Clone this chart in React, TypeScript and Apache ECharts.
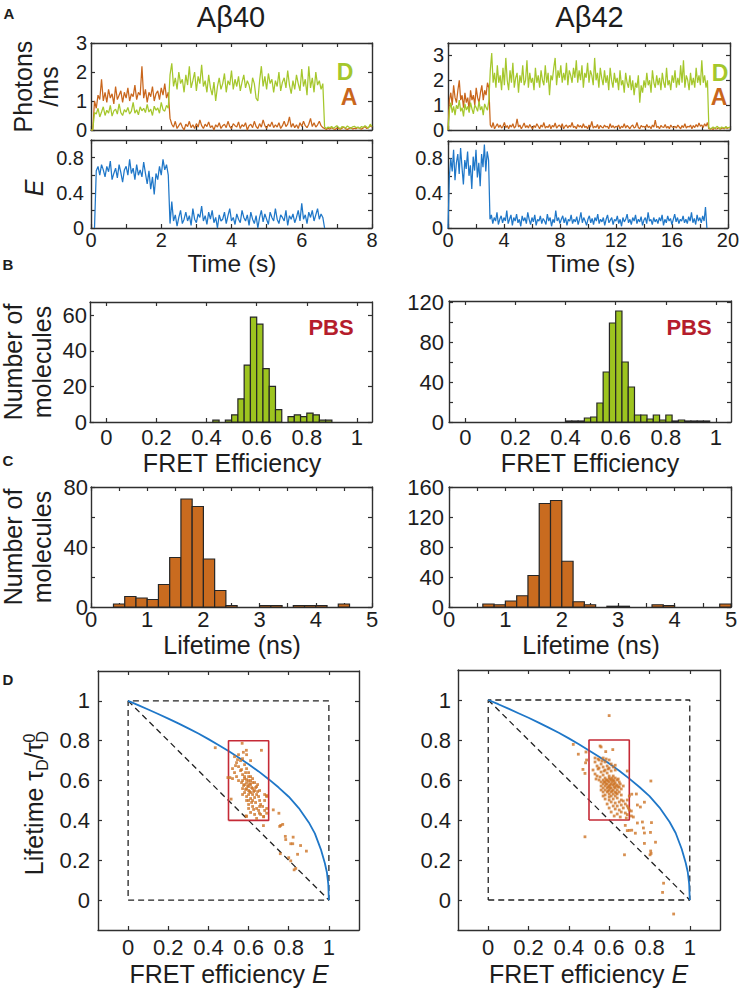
import React, { useEffect, useRef } from "react";
import * as echarts from "echarts";

// ---------------- DATA ----------------
// Panel A, Aβ40 single-molecule traces (bin = 0.05 s, starting at t = 0)
const A40_DT = 0.05;
const a40Donor = [
  0, 0, 0.6,
  0.55, 0.75, 0.45, 0.62, 0.8, 0.5, 0.68, 0.58, 0.85, 0.48, 0.66, 0.72, 0.55, 0.9, 0.6, 0.5, 0.7, 0.62, 0.78, 0.55,
  0.65, 0.95, 0.58, 0.7, 0.52, 0.8, 0.66, 0.75, 0.6, 0.88, 0.62, 0.72, 0.5, 0.82, 0.68, 0.76, 0.58, 0.95, 0.7, 0.65, 0.85, 0.75,
  1.9, 2.3, 1.5, 1.8, 1.4, 2.0, 1.6, 1.75, 1.3, 1.9,
  1.55, 2.2, 1.45, 1.7, 2.0, 1.35, 1.85, 1.6, 2.25, 1.5,
  1.7, 1.3, 1.9, 1.45, 1.2, 1.65, 1.0, 1.5, 1.8, 1.4,
  1.6, 1.95, 1.3, 1.7, 1.55, 2.05, 1.4, 1.75, 1.5, 1.85,
  1.35, 1.65, 1.9, 1.45, 1.7, 1.55, 1.25, 1.8, 1.6, 1.1,
  1.0, 1.7, 2.2, 1.5, 1.85, 1.4, 1.95, 1.6, 1.75, 1.3,
  1.7, 1.5, 2.0, 1.35, 1.65, 1.8, 1.45, 2.05, 1.55, 1.25,
  1.7, 1.4, 1.9, 1.6, 1.35, 2.1, 1.5, 1.75, 1.2, 2.2,
  1.45, 1.8, 1.3, 2.0, 1.55, 1.7, 1.4, 1.6,
  0.1,
  0.05, 0.1, 0.08, 0.12, 0.06, 0.1, 0.15, 0.08, 0.05, 0.12, 0.1, 0.07, 0.14, 0.09, 0.06, 0.11, 0.13, 0.08, 0.1, 0.05,
  0.12, 0.09, 0.15, 0.1, 0.07, 0.2, 0.12,
];
const a40Acceptor = [
  0, 0, 1.0,
  0.75, 1.2, 1.05, 1.75, 1.0, 1.3, 0.95, 1.4, 1.1, 1.25, 0.9, 1.5, 1.05, 1.2, 1.35, 0.95, 1.3, 1.1, 1.45, 1.0,
  1.25, 1.15, 1.55, 1.05, 1.3, 1.2, 2.2, 1.1, 1.4, 0.95, 1.3, 1.15, 1.5, 1.0, 1.25, 1.35, 1.05, 1.45, 1.2, 1.6, 1.1, 1.3,
  0.4,
  0.2, 0.1, 0.3, 0.05, 0.15, 0.25, 0.1, 0.0, 0.2, 0.12,
  0.3, 0.08, 0.18, 0.05, 0.22, 0.1, 0.35, 0.15, 0.05, 0.2,
  0.12, 0.28, 0.08, 0.15, 0.0, 0.18, 0.1, 0.25, 0.05, 0.15,
  0.2, 0.08, 0.3, 0.12, 0.05, 0.22, 0.15, 0.1, 0.28, 0.05,
  0.18, 0.12, 0.25, 0.0, 0.15, 0.2, 0.08, 0.3, 0.12, 0.05,
  0.22, 0.1, 0.35, 0.15, 0.05, 0.2, 0.12, 0.28, 0.08, 0.18,
  0.1, 0.25, 0.05, 0.15, 0.3, 0.12, 0.2, 0.45, 0.1, 0.22,
  0.08, 0.18, 0.05, 0.25, 0.12, 0.3, 0.15, 0.08, 0.2, 0.4,
  0.12, 0.25, 0.1, 0.18, 0.3, 0.15, 0.08,
  0.05, 0.02, 0.06, 0.03, 0.08, 0.04, 0.02, 0.07, 0.05, 0.03, 0.06, 0.1, 0.04, 0.02, 0.05, 0.08, 0.03, 0.06, 0.04, 0.09,
  0.05, 0.03, 0.07, 0.12, 0.05, 0.08, 0.15, 0.1,
];
const a40E = [
  null, null, 0,
  0.65, 0.7, 0.6, 0.72, 0.66, 0.58, 0.7, 0.64, 0.76, 0.55,
  0.62, 0.68, 0.57, 0.72, 0.63, 0.52, 0.66, 0.7, 0.6, 0.78,
  0.62, 0.68, 0.55, 0.72, 0.6, 0.66, 0.58, 0.75, 0.62, 0.5,
  0.65, 0.44, 0.58, 0.38, 0.62, 0.55, 0.7, 0.6, 0.78, 0.66,
  0.72, 0.6,
  0.05, 0.3, 0.08, 0.15, 0.02, 0.12, 0.2, 0.05, 0.1, 0.18,
  0.08, 0.14, 0.03, 0.22, 0.1, 0.06, 0.16, 0.12, 0.25, 0.08,
  0.14, 0.04, 0.18, 0.1, 0.2, 0.06, 0.12, 0.0, 0.15, 0.08,
  0.1, 0.18, 0.05, 0.14, 0.22, 0.08, 0.12, 0.04, 0.16, 0.1,
  0.06, 0.2, 0.12, 0.08, 0.15, 0.03, 0.18, 0.1, 0.05, 0.14,
  0.0, 0.12, 0.2, 0.07, 0.16, 0.1, 0.04, 0.18, 0.12, 0.08,
  0.22, 0.1, 0.05, 0.15, 0.12, 0.08, 0.2, 0.03, 0.14, 0.1,
  0.16, 0.06, 0.12, 0.2, 0.08, 0.28, 0.1, 0.15, 0.05, 0.18,
  0.12, 0.2, 0.08, 0.15, 0.22, 0.1, 0.16, 0.12,
  0,
];

// Panel A, Aβ42 traces (bin = 0.1 s)
const A42_DT = 0.1;
const a42Donor = [
  0,
  0.8, 1.1, 0.7, 0.95, 0.6, 1.0, 0.85, 1.2, 0.75, 0.9, 0.55, 1.05, 0.8, 0.95, 0.7, 1.1, 0.85, 0.65, 1.0, 0.9,
  0.75, 1.15, 0.8, 0.95, 0.6, 1.05, 0.9, 0.8, 1.2,
  2.4, 3.1, 1.9, 2.3, 1.7, 2.6, 1.9, 2.2, 1.6, 2.5,
  1.8, 2.9, 2.0, 1.6, 2.4, 1.9, 2.7, 1.7, 2.1, 2.3,
  1.5, 2.2, 1.9, 2.6, 1.8, 2.0, 2.8, 1.7, 2.3, 1.9,
  2.1, 1.6, 2.5, 1.9, 2.2, 1.7, 2.4, 2.0, 1.8, 2.6,
  1.9, 2.3, 1.4, 2.2, 2.0, 2.5, 2.9, 1.8, 2.4, 2.1,
  2.6, 1.9, 2.3, 2.0, 2.7, 1.8, 2.4, 2.2, 1.9, 2.5,
  2.1, 2.8, 1.9, 2.4, 2.0, 2.6, 1.7, 2.3, 2.1, 2.7,
  1.9, 2.4, 2.2, 1.8, 2.9, 2.0, 2.3, 1.7, 2.5, 2.1,
  1.8, 2.4, 1.9, 2.2, 1.6, 2.5, 2.0, 1.7, 2.3, 1.9,
  2.1, 1.6, 2.4, 1.8, 2.0, 1.5, 2.3, 1.9, 1.7, 2.2,
  1.6, 2.0, 1.4, 1.9, 1.7, 2.2, 1.1, 1.8, 1.5, 2.0,
  1.7, 2.3, 1.8, 2.0, 1.5, 2.4, 1.9, 1.7, 2.2, 1.8,
  2.1, 1.6, 2.3, 1.9, 1.7, 2.5, 1.8, 2.0, 1.6, 2.2,
  1.9, 2.4, 1.7, 2.1, 1.8, 2.6, 1.9, 2.8, 1.7, 2.2,
  2.0, 1.6, 2.3, 1.8, 2.1, 1.7, 2.5, 1.9, 2.2, 1.8,
  2.8, 1.9, 2.2, 1.7, 2.0,
  0.1, 0.05, 0.08, 0.12, 0.06, 0.1, 0.15, 0.08, 0.05, 0.12, 0.1, 0.07, 0.14, 0.09, 0.1, 0.12,
];
const a42Acceptor = [
  0,
  1.2, 1.5, 1.0, 1.8, 1.3, 1.1, 1.6, 2.0, 1.2, 1.4, 0.9, 1.5, 1.1, 1.3, 0.8, 1.6, 1.2, 1.4, 1.0, 1.7,
  1.3, 1.1, 1.5, 1.8, 1.2, 1.6, 1.4, 1.9, 1.7,
  0.2, 0.1, 0.3, 0.05, 0.15, 0.25, 0.1, 0.2, 0.08, 0.15,
  0.3, 0.1, 0.18, 0.05, 0.2, 0.12, 0.25, 0.08, 0.15, 0.45,
  0.12, 0.2, 0.05, 0.15, 0.28, 0.1, 0.18, 0.08, 0.22, 0.12,
  0.05, 0.18, 0.1, 0.25, 0.15, 0.05, 0.2, 0.12, 0.3, 0.08,
  0.15, 0.1, 0.22, 0.05, 0.18, 0.12, 0.28, 0.08, 0.15, 0.2,
  0.1, 0.25, 0.05, 0.15, 0.2, 0.08, 0.18, 0.12, 0.3, 0.1,
  0.15, 0.05, 0.22, 0.12, 0.18, 0.08, 0.25, 0.1, 0.15, 0.05,
  0.2, 0.12, 0.35, 0.08, 0.15, 0.1, 0.22, 0.05, 0.18, 0.12,
  0.08, 0.2, 0.12, 0.15, 0.05, 0.25, 0.1, 0.18, 0.08, 0.15,
  0.12, 0.2, 0.05, 0.15, 0.1, 0.25, 0.08, 0.18, 0.12, 0.05,
  0.15, 0.2, 0.08, 0.12, 0.3, 0.1, 0.05, 0.18, 0.12, 0.15,
  0.08, 0.22, 0.1, 0.15, 0.05, 0.2, 0.12, 0.4, 0.1, 0.15,
  0.05, 0.18, 0.12, 0.1, 0.22, 0.08, 0.15, 0.05, 0.2, 0.12,
  0.1, 0.15, 0.08, 0.2, 0.12, 0.05, 0.18, 0.1, 0.25, 0.08,
  0.15, 0.12, 0.2, 0.05, 0.18, 0.1, 0.22, 0.12, 0.28, 0.15,
  0.2, 0.1, 0.25, 0.15, 0.3,
  0.05, 0.03, 0.06, 0.02, 0.08, 0.04, 0.05, 0.1, 0.03, 0.06, 0.08, 0.04, 0.12, 0.06, 0.1, 0.08,
];
const a42E = [
  0,
  0.6, 0.8, 0.65, 0.9, 0.55, 0.75, 0.85, 0.62, 0.92, 0.7, 0.5, 0.78, 0.68, 0.88, 0.6, 0.72, 0.45, 0.82, 0.66, 0.9,
  0.58, 0.75, 0.48, 0.85, 0.7, 0.96, 0.65, 0.88, 0.78,
  0.1, 0.15, 0.05, 0.12, 0.08, 0.18, 0.04, 0.1, 0.14, 0.06,
  0.12, 0.08, 0.2, 0.05, 0.1, 0.15, 0.03, 0.12, 0.08, 0.16,
  0.06, 0.1, 0.02, 0.14, 0.08, 0.12, 0.05, 0.18, 0.1, 0.04,
  0.12, 0.07, 0.15, 0.03, 0.1, 0.08, 0.14, 0.05, 0.11, 0.08,
  0.04, 0.16, 0.08, 0.12, 0.02, 0.1, 0.06, 0.2, 0.08, 0.12,
  0.05, 0.1, 0.14, 0.06, 0.12, 0.03, 0.1, 0.08, 0.15, 0.05,
  0.1, 0.07, 0.13, 0.04, 0.1, 0.18, 0.06, 0.12, 0.08, 0.03,
  0.1, 0.14, 0.06, 0.11, 0.04, 0.12, 0.08, 0.16, 0.05, 0.1,
  0.07, 0.12, 0.03, 0.1, 0.15, 0.06, 0.09, 0.12, 0.04, 0.1,
  0.08, 0.14, 0.05, 0.1, 0.02, 0.12, 0.07, 0.1, 0.16, 0.06,
  0.1, 0.04, 0.12, 0.08, 0.15, 0.05, 0.1, 0.07, 0.13, 0.03,
  0.09, 0.12, 0.05, 0.18, 0.08, 0.1, 0.04, 0.12, 0.07, 0.1,
  0.05, 0.12, 0.08, 0.15, 0.03, 0.1, 0.06, 0.14, 0.08, 0.11,
  0.04, 0.1, 0.16, 0.07, 0.12, 0.05, 0.1, 0.08, 0.14, 0.06,
  0.1, 0.05, 0.13, 0.08, 0.18, 0.06, 0.11, 0.04, 0.15, 0.08,
  0.12, 0.06, 0.14, 0.08, 0.24,
  0,
];

// Panel B: FRET efficiency histograms (bin start, counts; bin width 0.025)
const FRET_BIN = 0.025;
const b40BinStart = [0.425, 0.475, 0.5, 0.525, 0.55, 0.575, 0.6, 0.625, 0.65, 0.675, 0.725, 0.75, 0.775, 0.8, 0.825, 0.85, 0.875];
const b40Counts = [1, 1, 4, 13, 32, 59, 55, 30, 20, 7, 3, 4, 3, 5, 4, 1, 1];
const b42BinStart = [0.4, 0.425, 0.45, 0.475, 0.5, 0.525, 0.55, 0.575, 0.6, 0.625, 0.65, 0.675, 0.7, 0.725, 0.75, 0.775, 0.8, 0.825, 0.85, 0.875, 0.9, 0.925, 0.95];
const b42Counts = [1, 1, 1, 4, 5, 19, 50, 99, 111, 60, 35, 7, 7, 3, 7, 2, 7, 1, 2, 1, 1, 1, 1];

// Panel C: lifetime histograms (bin width 0.2 ns)
const LIFE_BIN = 0.2;
const c40BinStart = [0.4, 0.6, 0.8, 1.0, 1.2, 1.4, 1.6, 1.8, 2.0, 2.2, 2.4, 3.0, 3.2, 3.6, 3.8, 4.0, 4.4];
const c40Counts = [2, 7, 6, 5, 15, 33, 72, 67, 32, 11, 1, 1, 1, 1, 1, 1, 2];
const c42BinStart = [0.6, 0.8, 1.0, 1.2, 1.4, 1.6, 1.8, 2.0, 2.2, 2.4, 2.8, 3.0, 3.6, 3.8, 4.8];
const c42Counts = [4, 3, 8, 15, 42, 138, 142, 61, 7, 3, 1, 1, 3, 2, 4];

// Panel D: E–τ plots
const staticLine = [[0, 1], [1, 0]];
const boundaryBox = [[0, 0], [1, 0], [1, 1], [0, 1], [0, 0]];
const gateBox = [[0.5, 0.4], [0.7, 0.4], [0.7, 0.8], [0.5, 0.8], [0.5, 0.4]];
const dynamicLine = [
  [0, 1], [0.05, 0.979], [0.1, 0.957], [0.15, 0.934], [0.2, 0.911], [0.25, 0.887], [0.3, 0.862], [0.35, 0.836],
  [0.4, 0.808], [0.45, 0.779], [0.5, 0.748], [0.55, 0.716], [0.6, 0.682], [0.65, 0.646], [0.7, 0.607], [0.75, 0.565],
  [0.8, 0.519], [0.85, 0.462], [0.9, 0.39], [0.93, 0.335], [0.96, 0.255], [0.98, 0.185], [0.99, 0.14], [0.997, 0.08], [1, 0],
];
const d40Points = [
  [0.53, 0.72], [0.55, 0.73], [0.56, 0.7], [0.54, 0.69], [0.57, 0.71], [0.52, 0.66], [0.55, 0.67], [0.58, 0.68],
  [0.53, 0.64], [0.56, 0.65], [0.59, 0.66], [0.54, 0.62], [0.57, 0.63], [0.6, 0.64], [0.55, 0.6], [0.58, 0.61],
  [0.52, 0.61], [0.61, 0.62], [0.59, 0.73], [0.61, 0.7], [0.535, 0.675], [0.565, 0.655], [0.585, 0.64], [0.545, 0.705],
  [0.57, 0.6], [0.59, 0.59], [0.6, 0.6], [0.62, 0.61], [0.58, 0.58], [0.6, 0.57], [0.61, 0.58], [0.63, 0.59],
  [0.57, 0.56], [0.59, 0.56], [0.6, 0.55], [0.62, 0.56], [0.64, 0.57], [0.58, 0.54], [0.6, 0.53], [0.61, 0.54],
  [0.63, 0.55], [0.59, 0.52], [0.61, 0.51], [0.62, 0.53], [0.64, 0.53], [0.6, 0.5], [0.62, 0.5], [0.65, 0.52],
  [0.595, 0.575], [0.605, 0.585], [0.615, 0.565], [0.585, 0.555], [0.625, 0.545], [0.575, 0.575], [0.605, 0.545], [0.635, 0.565],
  [0.59, 0.605], [0.61, 0.6], [0.6, 0.62], [0.58, 0.62], [0.565, 0.59], [0.62, 0.59], [0.645, 0.545], [0.63, 0.515],
  [0.655, 0.5], [0.615, 0.49], [0.6, 0.48], [0.635, 0.49], [0.59, 0.5], [0.57, 0.53], [0.645, 0.58], [0.655, 0.55],
  [0.6, 0.46], [0.62, 0.47], [0.64, 0.46], [0.66, 0.48], [0.61, 0.44], [0.63, 0.43], [0.65, 0.45], [0.67, 0.47],
  [0.68, 0.5], [0.69, 0.52], [0.66, 0.43], [0.68, 0.45], [0.59, 0.42], [0.64, 0.41], [0.675, 0.42], [0.655, 0.47],
  [0.625, 0.455], [0.69, 0.46],
  [0.434, 0.765], [0.568, 0.787], [0.664, 0.752], [0.589, 0.752], [0.574, 0.742], [0.497, 0.615], [0.507, 0.615], [0.513, 0.507],
  [0.588, 0.423], [0.675, 0.418], [0.723, 0.453], [0.751, 0.436], [0.76, 0.375], [0.77, 0.38], [0.755, 0.37], [0.674, 0.374],
  [0.783, 0.32], [0.785, 0.304], [0.822, 0.316], [0.81, 0.283], [0.82, 0.283], [0.859, 0.274], [0.888, 0.246], [0.844, 0.23],
  [0.758, 0.233], [0.8, 0.213], [0.81, 0.197], [0.835, 0.159], [0.827, 0.152], [0.69, 0.436], [0.68, 0.53], [0.69, 0.525],
  [0.654, 0.436],
];
const d42Points = [
  [0.53, 0.69], [0.55, 0.7], [0.57, 0.71], [0.54, 0.67], [0.56, 0.68], [0.58, 0.69], [0.6, 0.7], [0.52, 0.65],
  [0.55, 0.66], [0.57, 0.665], [0.59, 0.67], [0.61, 0.68], [0.53, 0.63], [0.56, 0.64], [0.58, 0.65], [0.6, 0.66],
  [0.62, 0.665], [0.54, 0.62], [0.57, 0.625], [0.59, 0.635], [0.61, 0.645], [0.63, 0.65], [0.545, 0.655], [0.565, 0.695],
  [0.585, 0.705], [0.575, 0.645], [0.595, 0.655], [0.535, 0.605], [0.555, 0.615], [0.6, 0.62],
  [0.57, 0.6], [0.58, 0.61], [0.59, 0.6], [0.6, 0.61], [0.61, 0.6], [0.62, 0.62], [0.63, 0.61], [0.56, 0.59],
  [0.58, 0.59], [0.6, 0.59], [0.62, 0.6], [0.64, 0.6], [0.57, 0.58], [0.59, 0.58], [0.61, 0.58], [0.63, 0.585],
  [0.65, 0.59], [0.56, 0.57], [0.58, 0.57], [0.6, 0.57], [0.62, 0.575], [0.64, 0.575], [0.57, 0.56], [0.59, 0.56],
  [0.61, 0.56], [0.63, 0.56], [0.65, 0.565], [0.58, 0.55], [0.6, 0.55], [0.62, 0.55], [0.64, 0.55], [0.66, 0.555],
  [0.57, 0.54], [0.59, 0.54], [0.61, 0.54], [0.63, 0.54], [0.65, 0.54], [0.6, 0.53], [0.62, 0.53], [0.64, 0.53],
  [0.58, 0.525], [0.61, 0.52], [0.63, 0.52], [0.66, 0.525], [0.595, 0.595], [0.605, 0.575], [0.615, 0.59], [0.625, 0.565],
  [0.585, 0.58], [0.595, 0.545], [0.615, 0.545], [0.635, 0.57], [0.605, 0.605], [0.625, 0.595], [0.575, 0.59], [0.645, 0.565],
  [0.655, 0.58], [0.6, 0.515], [0.585, 0.6], [0.615, 0.61], [0.55, 0.6], [0.56, 0.55], [0.67, 0.57], [0.645, 0.605],
  [0.635, 0.535], [0.605, 0.56], [0.595, 0.565], [0.625, 0.58],
  [0.6, 0.5], [0.62, 0.505], [0.64, 0.51], [0.66, 0.5], [0.61, 0.49], [0.63, 0.485], [0.65, 0.49], [0.67, 0.495],
  [0.59, 0.48], [0.62, 0.47], [0.64, 0.47], [0.66, 0.475], [0.68, 0.48], [0.6, 0.46], [0.63, 0.455], [0.65, 0.45],
  [0.67, 0.46], [0.69, 0.47], [0.61, 0.44], [0.64, 0.43], [0.66, 0.44], [0.68, 0.435], [0.7, 0.45], [0.625, 0.42],
  [0.655, 0.415], [0.685, 0.41], [0.58, 0.505], [0.57, 0.52], [0.69, 0.5], [0.7, 0.52],
  [0.6, 0.922], [0.555, 0.77], [0.56, 0.765], [0.618, 0.752], [0.583, 0.742], [0.422, 0.778], [0.447, 0.729], [0.485, 0.74],
  [0.488, 0.7], [0.483, 0.686], [0.47, 0.653], [0.48, 0.633], [0.53, 0.71], [0.545, 0.705], [0.63, 0.674], [0.69, 0.645],
  [0.807, 0.595], [0.712, 0.529], [0.735, 0.53], [0.775, 0.489], [0.74, 0.475], [0.755, 0.465], [0.695, 0.46], [0.71, 0.445],
  [0.71, 0.42], [0.72, 0.415], [0.74, 0.385], [0.765, 0.39], [0.81, 0.387], [0.69, 0.347], [0.7, 0.348], [0.712, 0.349],
  [0.77, 0.36], [0.775, 0.335], [0.805, 0.338], [0.73, 0.334], [0.83, 0.289], [0.775, 0.283], [0.806, 0.245], [0.808, 0.233],
  [0.803, 0.226], [0.676, 0.226], [0.48, 0.316], [0.87, 0.084], [0.865, 0.038], [0.92, -0.07], [0.68, 0.373], [0.69, 0.427],
];

// Tick values and tick labels
const a40TimeTicks = [0, 1, 2, 3, 4, 5, 6, 7, 8];
const a40TimeLabels = [0, 2, 4, 6, 8];
const a42TimeTicks = [0, 2, 4, 6, 8, 10, 12, 14, 16, 18, 20];
const a42TimeLabels = [0, 4, 8, 12, 16, 20];
const photonTicks = [0, 1, 2, 3];
const eTraceTicks = [0, 0.2, 0.4, 0.6, 0.8, 1];
const eTraceLabels = [0, 0.4, 0.8];
const fretTicks = [0, 0.2, 0.4, 0.6, 0.8, 1];
const b40YTicks = [0, 20, 40, 60];
const b42YTicks = [0, 20, 40, 60, 80, 100, 120];
const b42YLabels = [0, 40, 80, 120];
const lifeTicks = [0, 0.5, 1, 1.5, 2, 2.5, 3, 3.5, 4, 4.5, 5];
const lifeLabels = [0, 1, 2, 3, 4, 5];
const c40YTicks = [0, 20, 40, 60, 80];
const c40YLabels = [0, 40, 80];
const c42YTicks = [0, 40, 80, 120, 160];
const phasorTicks = [0, 0.2, 0.4, 0.6, 0.8, 1];

// ---------------- STYLE ----------------
const FONT = "'Liberation Sans', Arial, Helvetica, sans-serif";
const TXT = "#1d1d1d";
const AXIS = "#2f2f2f";
const GREEN = "#a5c72c";
const GREEN_BAR = "#9dc41f";
const ORANGE = "#c9661c";
const ORANGE_BAR = "#c96b1f";
const BLUE = "#1f77c8";
const DOT = "#cd7427";
const RED = "#c52a36";
const PBS_RED = "#b51d2c";

function measure(text: string, size: number, style = "normal") {
  const c = document.createElement("canvas").getContext("2d") as CanvasRenderingContext2D;
  c.font = `${style} ${size}px "Liberation Sans", Arial, sans-serif`;
  return c.measureText(text).width;
}

function txt(text: string, x: number, y: number, o: any = {}) {
  const style: any = {
    text,
    fill: o.fill || TXT,
    fontSize: o.fs || 25,
    fontFamily: FONT,
    fontWeight: o.fw || "normal",
    fontStyle: o.it ? "italic" : "normal",
    textAlign: o.align || "center",
    textVerticalAlign: o.va || "middle",
  };
  if (o.lh) style.lineHeight = o.lh;
  if (o.rich) style.rich = o.rich;
  return { type: "text", x, y, rotation: o.rot || 0, silent: true, z: 100, style };
}

function buildOption() {
  const grid: any[] = [];
  const xAxis: any[] = [];
  const yAxis: any[] = [];
  const series: any[] = [];

  function addGrid(rect: number[], c: any) {
    const g = grid.length;
    grid.push({ left: rect[0], top: rect[1], width: rect[2], height: rect[3] });
    const line = { show: true, onZero: false, lineStyle: { color: AXIS, width: 1.4 } };
    const tick = (vals: number[]) => ({
      show: true, inside: true, length: 4, customValues: vals, lineStyle: { color: AXIS, width: 1.2 },
    });
    const label = (vals: number[] | null, margin: number) =>
      vals
        ? {
            show: true, customValues: vals, fontSize: c.fs, fontFamily: FONT, color: TXT, margin,
            showMinLabel: true, showMaxLabel: true, hideOverlap: false,
          }
        : { show: false };
    const base = { type: "value", gridIndex: g, splitLine: { show: false }, axisLine: line };
    xAxis.push({ ...base, position: "bottom", min: c.x[0], max: c.x[1], axisTick: tick(c.xTicks), axisLabel: label(c.xLabels, c.xm) });
    xAxis.push({ ...base, position: "top", min: c.x[0], max: c.x[1], axisTick: tick(c.xTicks), axisLabel: { show: false } });
    yAxis.push({ ...base, position: "left", min: c.y[0], max: c.y[1], axisTick: tick(c.yTicks), axisLabel: label(c.yLabels, c.ym) });
    yAxis.push({ ...base, position: "right", min: c.y[0], max: c.y[1], axisTick: tick(c.yTicks), axisLabel: { show: false } });
    return g;
  }

  const trace = (g: number, vals: (number | null)[], dt: number, color: string, z: number) => ({
    type: "line",
    xAxisIndex: 2 * g,
    yAxisIndex: 2 * g,
    data: vals.map((v, i) => [Math.round(i * dt * 1000) / 1000, v]).filter((p) => p[1] !== null),
    showSymbol: false,
    symbol: "none",
    lineStyle: { color, width: 1.25 },
    z,
  });

  const hist = (g: number, starts: number[], counts: number[], w: number, fill: string) => ({
    type: "custom",
    coordinateSystem: "cartesian2d",
    xAxisIndex: 2 * g,
    yAxisIndex: 2 * g,
    data: starts.map((s, i) => [s, Math.round((s + w) * 1000) / 1000, counts[i]]),
    encode: { x: [0, 1], y: 2 },
    renderItem: (params: any, api: any) => {
      const a = api.coord([api.value(0), api.value(2)]);
      const b = api.coord([api.value(1), 0]);
      return {
        type: "rect",
        shape: { x: a[0], y: a[1], width: b[0] - a[0], height: b[1] - a[1] },
        style: { fill, stroke: "#262626", lineWidth: 1.2 },
      };
    },
  });

  const path = (g: number, pts: number[][], color: string, width: number, dashed: boolean, z = 3) => ({
    type: "line",
    xAxisIndex: 2 * g,
    yAxisIndex: 2 * g,
    data: pts,
    showSymbol: false,
    symbol: "none",
    lineStyle: { color, width, type: dashed ? [6, 4] : "solid" },
    z,
  });

  const scatter = (g: number, pts: number[][]) => ({
    type: "scatter",
    xAxisIndex: 2 * g,
    yAxisIndex: 2 * g,
    data: pts,
    symbol: "rect",
    symbolSize: 2.8,
    itemStyle: { color: DOT },
    z: 6,
  });

  // Panel A
  const gA40p = addGrid([91, 43, 281, 87], { x: [0, 8], xTicks: a40TimeTicks, xLabels: null, y: [0, 3], yTicks: photonTicks, yLabels: photonTicks, fs: 20, ym: 4 });
  const gA40e = addGrid([91, 140, 281, 88], { x: [0, 8], xTicks: a40TimeTicks, xLabels: a40TimeLabels, xm: 2, y: [0, 1], yTicks: eTraceTicks, yLabels: eTraceLabels, fs: 20, ym: 7 });
  const gA42p = addGrid([448, 43, 282, 87], { x: [0, 20], xTicks: a42TimeTicks, xLabels: null, y: [0, 3.5], yTicks: photonTicks, yLabels: photonTicks, fs: 20, ym: 4 });
  const gA42e = addGrid([448, 141, 282, 87], { x: [0, 20], xTicks: a42TimeTicks, xLabels: a42TimeLabels, xm: 2, y: [0, 1], yTicks: eTraceTicks, yLabels: eTraceLabels, fs: 20, ym: 5 });
  // Panel B
  const gB40 = addGrid([90, 302, 282, 120], { x: [-0.065, 1.06], xTicks: fretTicks, xLabels: fretTicks, xm: 4, y: [0, 67.5], yTicks: b40YTicks, yLabels: b40YTicks, fs: 22, ym: 3 });
  const gB42 = addGrid([449, 301, 282, 121], { x: [-0.065, 1.06], xTicks: fretTicks, xLabels: fretTicks, xm: 4, y: [0, 121], yTicks: b42YTicks, yLabels: b42YLabels, fs: 22, ym: 5 });
  // Panel C
  const gC40 = addGrid([91, 487, 281, 120], { x: [0, 5], xTicks: lifeTicks, xLabels: lifeLabels, xm: 1, y: [0, 80], yTicks: c40YTicks, yLabels: c40YLabels, fs: 22, ym: 3 });
  const gC42 = addGrid([449, 487, 282, 120], { x: [0, 5], xTicks: lifeTicks, xLabels: lifeLabels, xm: 1, y: [0, 160], yTicks: c42YTicks, yLabels: c42YTicks, fs: 22, ym: 5 });
  // Panel D
  const gD40 = addGrid([98, 671, 261, 259], { x: [-0.15, 1.15], xTicks: phasorTicks, xLabels: phasorTicks, xm: 6, y: [-0.15, 1.15], yTicks: phasorTicks, yLabels: phasorTicks, fs: 22, ym: 8 });
  const gD42 = addGrid([458, 670, 262, 260], { x: [-0.15, 1.15], xTicks: phasorTicks, xLabels: phasorTicks, xm: 6, y: [-0.15, 1.15], yTicks: phasorTicks, yLabels: phasorTicks, fs: 22, ym: 7 });

  series.push(trace(gA40p, a40Acceptor, A40_DT, ORANGE, 2));
  series.push(trace(gA40p, a40Donor, A40_DT, GREEN, 3));
  series.push(trace(gA40e, a40E, A40_DT, BLUE, 3));
  series.push(trace(gA42p, a42Acceptor, A42_DT, ORANGE, 2));
  series.push(trace(gA42p, a42Donor, A42_DT, GREEN, 3));
  series.push(trace(gA42e, a42E, A42_DT, BLUE, 3));

  series.push(hist(gB40, b40BinStart, b40Counts, FRET_BIN, GREEN_BAR));
  series.push(hist(gB42, b42BinStart, b42Counts, FRET_BIN, GREEN_BAR));
  series.push(hist(gC40, c40BinStart, c40Counts, LIFE_BIN, ORANGE_BAR));
  series.push(hist(gC42, c42BinStart, c42Counts, LIFE_BIN, ORANGE_BAR));

  for (const [g, pts] of [[gD40, d40Points], [gD42, d42Points]] as any) {
    series.push(path(g, boundaryBox, "#222", 1.3, true));
    series.push(path(g, staticLine, "#222", 1.3, true));
    series.push(path(g, dynamicLine, BLUE, 1.8, false, 4));
    series.push(path(g, gateBox, RED, 1.6, false, 5));
    series.push(scatter(g, pts));
  }

  // Texts
  const graphic: any[] = [];
  graphic.push(txt("A", 9, 13, { fs: 15, fw: "bold" }));
  graphic.push(txt("B", 8, 264, { fs: 15, fw: "bold" }));
  graphic.push(txt("C", 8, 460, { fs: 15, fw: "bold" }));
  graphic.push(txt("D", 8, 679, { fs: 15, fw: "bold" }));
  graphic.push(txt("Aβ40", 231, 17, { fs: 29 }));
  graphic.push(txt("Aβ42", 589.5, 17, { fs: 29 }));
  graphic.push(txt("Photons", 23, 86.5, { fs: 25, rot: Math.PI / 2 }));
  graphic.push(txt("/ms", 49, 86.5, { fs: 25, rot: Math.PI / 2 }));
  graphic.push(txt("E", 33.5, 188, { fs: 25, it: true, rot: Math.PI / 2 }));
  graphic.push(txt("D", 345, 72, { fs: 23, fw: "bold", fill: GREEN }));
  graphic.push(txt("A", 349, 97, { fs: 23, fw: "bold", fill: ORANGE }));
  graphic.push(txt("D", 720, 73, { fs: 23, fw: "bold", fill: GREEN }));
  graphic.push(txt("A", 719, 97, { fs: 23, fw: "bold", fill: ORANGE }));
  graphic.push(txt("Time (s)", 232, 263.5, { fs: 24.5 }));
  graphic.push(txt("Time (s)", 591, 263.5, { fs: 24.5 }));
  for (const cy of [362, 547]) {
    graphic.push(txt("Number of", 12.5, cy, { fs: 25, rot: Math.PI / 2 }));
    graphic.push(txt("molecules", 42, cy, { fs: 25, rot: Math.PI / 2 }));
  }
  graphic.push(txt("PBS", 331, 327, { fs: 22, fw: "bold", fill: PBS_RED }));
  graphic.push(txt("PBS", 689, 327, { fs: 22, fw: "bold", fill: PBS_RED }));
  graphic.push(txt("FRET Efficiency", 232, 463, { fs: 25 }));
  graphic.push(txt("FRET Efficiency", 590, 463, { fs: 25 }));
  graphic.push(txt("Lifetime (ns)", 232, 645, { fs: 25 }));
  graphic.push(txt("Lifetime (ns)", 591, 645, { fs: 25 }));
  const richE = {
    n: { fontSize: 25, fontFamily: FONT, fill: TXT, color: TXT },
    i: { fontSize: 25, fontFamily: FONT, fontStyle: "italic", fill: TXT, color: TXT },
  };
  graphic.push(txt("{n|FRET efficiency }{i|E}", 229, 974, { fs: 25, rich: richE }));
  graphic.push(txt("{n|FRET efficiency }{i|E}", 588.5, 974, { fs: 25, rich: richE }));

  // D y-axis title: Lifetime τD/τD0 built from rotated pieces
  const MAIN = 25, SMALL = 16;
  const cx = 34.3;
  const w1 = measure("Lifetime τ", MAIN);
  const wD = measure("D", SMALL);
  const w2 = measure("/τ", MAIN);
  const w0 = measure("0", SMALL);
  const total = w1 + wD + w2 + Math.max(wD, w0);
  const y0 = 803 + total / 2;
  const rot = Math.PI / 2;
  graphic.push(txt("Lifetime τ", cx, y0, { fs: MAIN, rot, align: "left" }));
  graphic.push(txt("D", cx + 8.4, y0 - w1, { fs: SMALL, rot, align: "left" }));
  graphic.push(txt("/τ", cx, y0 - w1 - wD, { fs: MAIN, rot, align: "left" }));
  graphic.push(txt("D", cx + 8.4, y0 - w1 - wD - w2, { fs: SMALL, rot, align: "left" }));
  graphic.push(txt("0", cx - 5, y0 - w1 - wD - w2, { fs: SMALL, rot, align: "left" }));

  return {
    animation: false,
    backgroundColor: "#ffffff",
    grid,
    xAxis,
    yAxis,
    series,
    graphic,
  };
}

export default function App() {
  const ref = useRef<HTMLDivElement>(null);
  useEffect(() => {
    if (!ref.current) return;
    const chart = echarts.init(ref.current, null, { renderer: "svg" });
    chart.setOption(buildOption() as any);
    return () => chart.dispose();
  }, []);
  return (
    <div
      ref={ref}
      style={{ position: "fixed", left: 0, top: 0, width: 742, height: 989, background: "#fff" }}
    />
  );
}
